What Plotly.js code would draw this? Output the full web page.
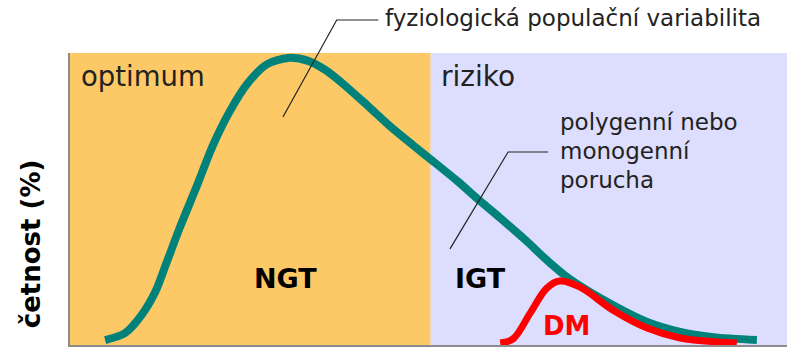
<!DOCTYPE html>
<html>
<head>
<meta charset="utf-8">
<script src="https://cdn.plot.ly/plotly-3.0.1.min.js"></script>
<style>
  html, body { margin: 0; padding: 0; background: #fff; }
  #chart { width: 787px; height: 355px; }
</style>
</head>
<body>
<div id="chart"></div>
<script>
// glucose tolerance (arbitrary units, 0-100) vs. frequency (%)
const populationX = [4.9, 7.7, 10.0, 11.9, 13.3, 15.3, 17.7, 19.9, 22.3, 24.7, 27.5, 30.4, 33.2, 35.6, 38.1, 41.4, 44.6, 47.8, 50.6, 54.0, 57.2, 60.0, 63.5, 66.5, 69.7, 75.7, 80.5, 85.1, 89.7, 95.8];
const populationY = [1.7, 4.1, 10.3, 18.2, 27.1, 40.1, 54.5, 68.2, 80.1, 89.4, 96.2, 98.3, 97.3, 94.2, 89.4, 82.2, 75.0, 68.5, 63.0, 56.2, 49.3, 43.5, 36.0, 29.1, 22.6, 13.7, 7.9, 4.5, 2.7, 1.7];

const dmX = [60.0, 61.8, 64.2, 66.5, 68.3, 71.1, 75.7, 80.5, 85.1, 93.0];
const dmY = [0.7, 2.1, 11.0, 19.5, 21.9, 19.9, 12.0, 5.8, 2.4, 0.7];

// optimum | riziko boundary on the x scale
const zoneBoundary = 50.3;

const font = 'DejaVu Sans, Verdana, sans-serif';
const textColor = '#222222';

const traces = [
    {
        x: populationX,
        y: populationY,
        mode: 'lines',
        line: { color: '#00827b', width: 8, shape: 'spline', smoothing: 0.8 },
        hoverinfo: 'skip'
    },
    {
        x: dmX,
        y: dmY,
        mode: 'lines',
        line: { color: '#ff0000', width: 7, shape: 'spline', smoothing: 1 },
        hoverinfo: 'skip'
    }
];

const layout = {
    width: 787,
    height: 355,
    margin: { l: 70, r: 0, t: 53, b: 10 },
    paper_bgcolor: '#ffffff',
    plot_bgcolor: '#ffffff',
    showlegend: false,
    xaxis: {
        range: [0, 100],
        showgrid: false,
        zeroline: false,
        showticklabels: false,
        ticks: '',
        showline: true,
        linecolor: '#8c8c8c',
        linewidth: 2,
        fixedrange: true
    },
    yaxis: {
        range: [0, 100],
        showgrid: false,
        zeroline: false,
        showticklabels: false,
        ticks: '',
        showline: true,
        linecolor: '#8c8c8c',
        linewidth: 2,
        fixedrange: true
    },
    shapes: [
        { type: 'rect', xref: 'x', yref: 'paper', x0: 0, x1: zoneBoundary, y0: 0, y1: 1,
          fillcolor: '#fdc966', line: { width: 0 }, layer: 'below' },
        { type: 'rect', xref: 'x', yref: 'paper', x0: zoneBoundary, x1: 100, y0: 0, y1: 1,
          fillcolor: '#ddddfd', line: { width: 0 }, layer: 'below' },
        // leader lines
        { type: 'path', xref: 'paper', yref: 'paper',
          path: 'M 0.297 0.781 L 0.372 1.113 L 0.430 1.113',
          line: { color: '#222222', width: 1.2 } },
        { type: 'path', xref: 'paper', yref: 'paper',
          path: 'M 0.530 0.329 L 0.611 0.661 L 0.667 0.661',
          line: { color: '#222222', width: 1.2 } }
    ],
    annotations: [
        { text: 'fyziologická populační variabilita', xref: 'paper', yref: 'paper',
          x: 0.4365, y: 1.12, xanchor: 'left', yanchor: 'middle', showarrow: false,
          font: { family: font, size: 23, color: textColor } },
        { text: 'optimum', xref: 'paper', yref: 'paper',
          x: 0.012, y: 0.92, xanchor: 'left', yanchor: 'middle', showarrow: false,
          font: { family: font, size: 27.5, color: textColor } },
        { text: 'riziko', xref: 'paper', yref: 'paper',
          x: 0.514, y: 0.92, xanchor: 'left', yanchor: 'middle', showarrow: false,
          font: { family: font, size: 28, color: textColor } },
        { text: 'polygenní nebo', xref: 'paper', yref: 'paper',
          x: 0.680, y: 0.764, xanchor: 'left', yanchor: 'middle', showarrow: false,
          font: { family: font, size: 23, color: textColor } },
        { text: 'monogenní', xref: 'paper', yref: 'paper',
          x: 0.680, y: 0.664, xanchor: 'left', yanchor: 'middle', showarrow: false,
          font: { family: font, size: 23, color: textColor } },
        { text: 'porucha', xref: 'paper', yref: 'paper',
          x: 0.680, y: 0.565, xanchor: 'left', yanchor: 'middle', showarrow: false,
          font: { family: font, size: 23, color: textColor } },
        { text: '<b>NGT</b>', xref: 'paper', yref: 'paper',
          x: 0.300, y: 0.229, xanchor: 'center', yanchor: 'middle', showarrow: false,
          font: { family: font, size: 27, color: '#000000' } },
        { text: '<b>IGT</b>', xref: 'paper', yref: 'paper',
          x: 0.573, y: 0.229, xanchor: 'center', yanchor: 'middle', showarrow: false,
          font: { family: font, size: 27, color: '#000000' } },
        { text: '<b>DM</b>', xref: 'paper', yref: 'paper',
          x: 0.693, y: 0.065, xanchor: 'center', yanchor: 'middle', showarrow: false,
          font: { family: font, size: 26, color: '#ff0000' } },
        { text: '<b>četnost (%)</b>', xref: 'paper', yref: 'paper',
          x: -0.054, y: 0.346, xanchor: 'center', yanchor: 'middle', textangle: -90,
          showarrow: false, font: { family: font, size: 26, color: '#000000' } }
    ]
};

Plotly.newPlot('chart', traces, layout, { staticPlot: true });
</script>
</body>
</html>
